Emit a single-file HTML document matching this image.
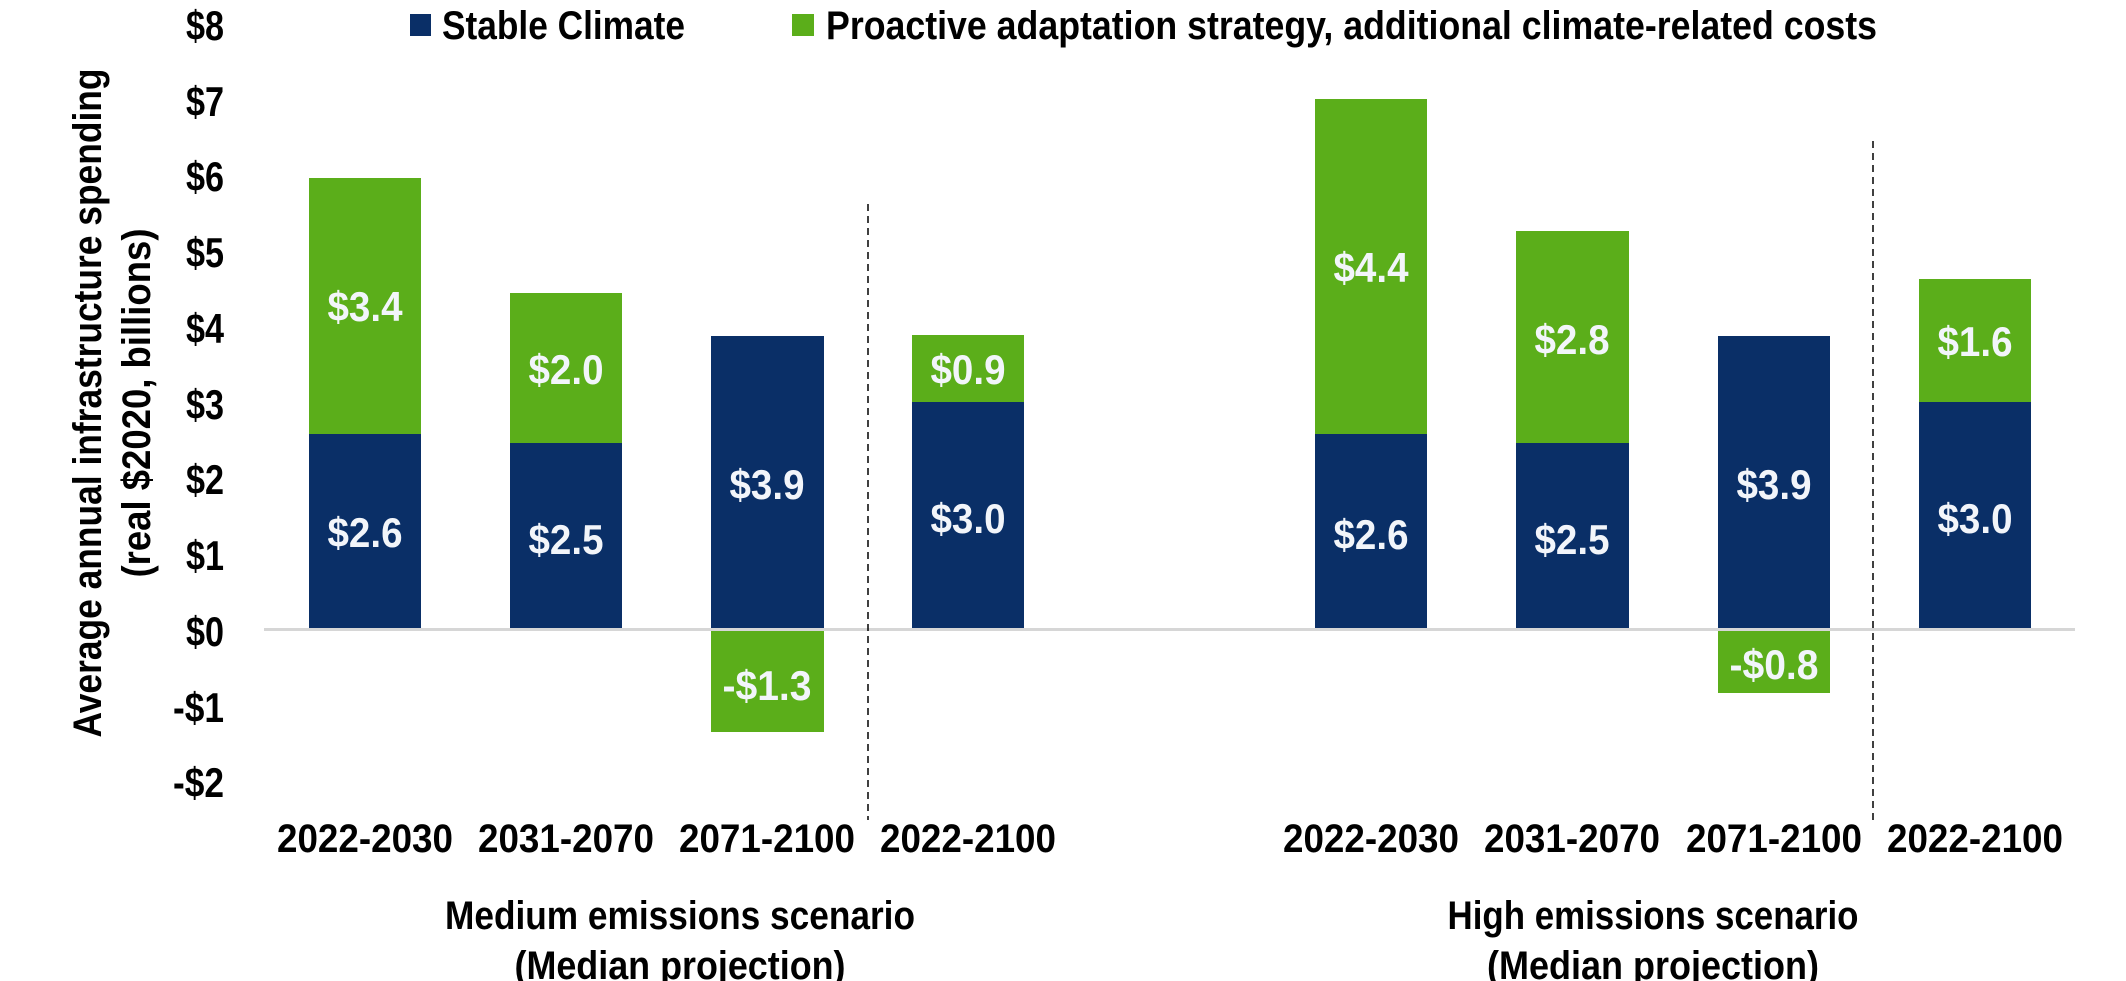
<!DOCTYPE html>
<html><head><meta charset="utf-8"><style>
html,body{margin:0;padding:0;background:#fff;}
svg{display:block;}
text{font-family:"Liberation Sans Narrow","Liberation Sans",sans-serif;font-weight:bold;}
</style></head><body>
<svg width="2126" height="981" viewBox="0 0 2126 981" xmlns="http://www.w3.org/2000/svg">
<!-- legend -->
<rect x="410" y="14" width="21" height="22" fill="#0a2f67"/>
<text x="442" y="39" font-size="40" fill="#000" textLength="243" lengthAdjust="spacingAndGlyphs">Stable Climate</text>
<rect x="792" y="14" width="22" height="22" fill="#5bae1a"/>
<text x="826" y="39" font-size="40" fill="#000" textLength="1051" lengthAdjust="spacingAndGlyphs">Proactive adaptation strategy, additional climate-related costs</text>
<!-- y ticks -->
<g font-size="42" fill="#000" text-anchor="end">
<text x="224" y="40" textLength="38" lengthAdjust="spacingAndGlyphs">$8</text>
<text x="224" y="116" textLength="38" lengthAdjust="spacingAndGlyphs">$7</text>
<text x="224" y="191" textLength="38" lengthAdjust="spacingAndGlyphs">$6</text>
<text x="224" y="267" textLength="38" lengthAdjust="spacingAndGlyphs">$5</text>
<text x="224" y="343" textLength="38" lengthAdjust="spacingAndGlyphs">$4</text>
<text x="224" y="419" textLength="38" lengthAdjust="spacingAndGlyphs">$3</text>
<text x="224" y="494" textLength="38" lengthAdjust="spacingAndGlyphs">$2</text>
<text x="224" y="570" textLength="38" lengthAdjust="spacingAndGlyphs">$1</text>
<text x="224" y="646" textLength="38" lengthAdjust="spacingAndGlyphs">$0</text>
<text x="224" y="722" textLength="51" lengthAdjust="spacingAndGlyphs">-$1</text>
<text x="224" y="797" textLength="51" lengthAdjust="spacingAndGlyphs">-$2</text>
</g>
<!-- y title -->
<g font-size="40" fill="#000" text-anchor="middle">
<text transform="translate(101,403) rotate(-90)" textLength="669" lengthAdjust="spacingAndGlyphs">Average annual infrastructure spending</text>
<text transform="translate(150,403) rotate(-90)" textLength="349" lengthAdjust="spacingAndGlyphs">(real $2020, billions)</text>
</g>
<!-- zero line -->
<rect x="264" y="628" width="1811" height="3" fill="#d6d6d6"/>
<!-- dashed -->
<line x1="868" y1="204" x2="868" y2="820" stroke="#000" stroke-width="1.5" stroke-dasharray="7,5"/>
<line x1="1873" y1="141" x2="1873" y2="820" stroke="#000" stroke-width="1.5" stroke-dasharray="7,5"/>
<!-- bars -->
<g>
<rect x="309" y="178" width="112" height="256" fill="#5bae1a"/>
<rect x="309" y="434" width="112" height="194" fill="#0a2f67"/>
<rect x="510" y="293" width="112" height="150" fill="#5bae1a"/>
<rect x="510" y="443" width="112" height="185" fill="#0a2f67"/>
<rect x="711" y="336" width="113" height="292" fill="#0a2f67"/>
<rect x="711" y="631" width="113" height="101" fill="#5bae1a"/>
<rect x="912" y="335" width="112" height="67" fill="#5bae1a"/>
<rect x="912" y="402" width="112" height="226" fill="#0a2f67"/>
<rect x="1315" y="99" width="112" height="335" fill="#5bae1a"/>
<rect x="1315" y="434" width="112" height="194" fill="#0a2f67"/>
<rect x="1516" y="231" width="113" height="212" fill="#5bae1a"/>
<rect x="1516" y="443" width="113" height="185" fill="#0a2f67"/>
<rect x="1718" y="336" width="112" height="292" fill="#0a2f67"/>
<rect x="1718" y="631" width="112" height="62" fill="#5bae1a"/>
<rect x="1919" y="279" width="112" height="123" fill="#5bae1a"/>
<rect x="1919" y="402" width="112" height="226" fill="#0a2f67"/>
</g>
<!-- data labels -->
<g font-size="42" fill="#f2f5fa" text-anchor="middle">
<text x="365" y="321" textLength="75" lengthAdjust="spacingAndGlyphs">$3.4</text>
<text x="365" y="547" textLength="75" lengthAdjust="spacingAndGlyphs">$2.6</text>
<text x="566" y="384" textLength="75" lengthAdjust="spacingAndGlyphs">$2.0</text>
<text x="566" y="554" textLength="75" lengthAdjust="spacingAndGlyphs">$2.5</text>
<text x="767" y="499" textLength="75" lengthAdjust="spacingAndGlyphs">$3.9</text>
<text x="767" y="700" textLength="89" lengthAdjust="spacingAndGlyphs">-$1.3</text>
<text x="968" y="384" textLength="75" lengthAdjust="spacingAndGlyphs">$0.9</text>
<text x="968" y="533" textLength="75" lengthAdjust="spacingAndGlyphs">$3.0</text>
<text x="1371" y="282" textLength="75" lengthAdjust="spacingAndGlyphs">$4.4</text>
<text x="1371" y="549" textLength="75" lengthAdjust="spacingAndGlyphs">$2.6</text>
<text x="1572" y="354" textLength="75" lengthAdjust="spacingAndGlyphs">$2.8</text>
<text x="1572" y="554" textLength="75" lengthAdjust="spacingAndGlyphs">$2.5</text>
<text x="1774" y="499" textLength="75" lengthAdjust="spacingAndGlyphs">$3.9</text>
<text x="1774" y="679" textLength="89" lengthAdjust="spacingAndGlyphs">-$0.8</text>
<text x="1975" y="356" textLength="75" lengthAdjust="spacingAndGlyphs">$1.6</text>
<text x="1975" y="533" textLength="75" lengthAdjust="spacingAndGlyphs">$3.0</text>
</g>
<!-- category labels -->
<g font-size="40" fill="#000" text-anchor="middle">
<text x="365" y="852" textLength="176" lengthAdjust="spacingAndGlyphs">2022-2030</text>
<text x="566" y="852" textLength="176" lengthAdjust="spacingAndGlyphs">2031-2070</text>
<text x="767" y="852" textLength="176" lengthAdjust="spacingAndGlyphs">2071-2100</text>
<text x="968" y="852" textLength="176" lengthAdjust="spacingAndGlyphs">2022-2100</text>
<text x="1371" y="852" textLength="176" lengthAdjust="spacingAndGlyphs">2022-2030</text>
<text x="1572" y="852" textLength="176" lengthAdjust="spacingAndGlyphs">2031-2070</text>
<text x="1774" y="852" textLength="176" lengthAdjust="spacingAndGlyphs">2071-2100</text>
<text x="1975" y="852" textLength="176" lengthAdjust="spacingAndGlyphs">2022-2100</text>
<text x="680" y="929" textLength="470" lengthAdjust="spacingAndGlyphs">Medium emissions scenario</text>
<text x="680" y="979" textLength="331" lengthAdjust="spacingAndGlyphs">(Median projection)</text>
<text x="1653" y="929" textLength="411" lengthAdjust="spacingAndGlyphs">High emissions scenario</text>
<text x="1653" y="979" textLength="332" lengthAdjust="spacingAndGlyphs">(Median projection)</text>
</g>
</svg>
</body></html>
